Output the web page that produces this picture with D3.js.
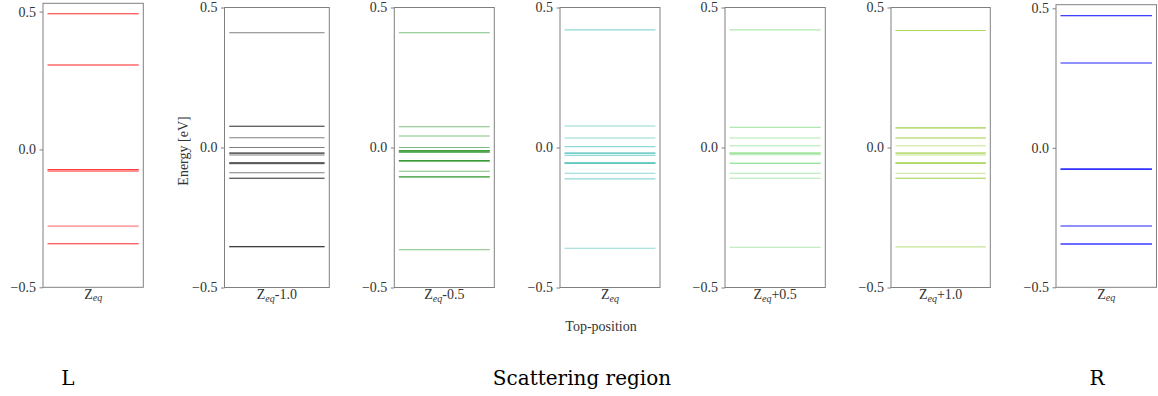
<!DOCTYPE html>
<html><head><meta charset="utf-8">
<script src="https://cdn.jsdelivr.net/npm/d3@7"></script>
<style>body{margin:0;background:#fff} svg{display:block} .tf{font-family:"Liberation Serif","DejaVu Serif",serif;}</style>
</head><body><svg id="c" width="1158" height="396"></svg>
<script>
// ---- data (energies in eV; degenerate levels listed once per state) ----
const panelNames = ["L", "Zeq-1.0", "Zeq-0.5", "Zeq", "Zeq+0.5", "Zeq+1.0", "R"];
const tickSuffix = ["", "-1.0", "-0.5", "", "+0.5", "+1.0", ""];
const levelsL = [0.492, 0.492, 0.306, 0.306, -0.073, -0.073, -0.078, -0.078, -0.278, -0.342, -0.342];
const levelsM10 = [0.410, 0.076, 0.076, 0.035, 0.0, -0.020, -0.020, -0.027, -0.055, -0.055, -0.058, -0.090, -0.110, -0.110, -0.354, -0.354];
const levelsM05 = [0.410, 0.074, 0.041, 0.0, -0.011, -0.011, -0.016, -0.016, -0.016, -0.047, -0.047, -0.049, -0.085, -0.105, -0.105, -0.365];
const levelsZ = [0.420, 0.077, 0.034, 0.003, -0.020, -0.020, -0.028, -0.055, -0.055, -0.057, -0.092, -0.112, -0.360];
const levelsP05 = [0.420, 0.072, 0.034, 0.006, -0.020, -0.020, -0.026, -0.056, -0.056, -0.092, -0.110, -0.356];
const levelsP10 = [0.418, 0.418, 0.070, 0.070, 0.034, 0.034, 0.006, -0.020, -0.020, -0.027, -0.055, -0.055, -0.057, -0.092, -0.110, -0.110, -0.355];
const levelsR = [0.474, 0.474, 0.304, 0.304, -0.075, -0.075, -0.078, -0.078, -0.280, -0.280, -0.345, -0.345, -0.345];
const panelColors = ["#ff0000", "#000000", "#008000", "#20b2aa", "#5fd35f", "#8fc92a", "#0000ff"];
const yTicks = [-0.5, 0.0, 0.5];
const yMax = [0.53, 0.5, 0.5, 0.5, 0.5, 0.5, 0.513];
const regionLabels = ["L", "Scattering region", "R"];
const xAxisTitle = "Top-position";
const yAxisTitle = "Energy [eV]";
const allLevels = [levelsL, levelsM10, levelsM05, levelsZ, levelsP05, levelsP10, levelsR];

// ---- layout ----
const boxes = [
  {x0: 43, x1: 143.3, top: 3.3, bottom: 287.3},
  {x0: 224.5, x1: 329.3, top: 7.5, bottom: 287.5},
  {x0: 394.3, x1: 494.3, top: 7.5, bottom: 287.5},
  {x0: 560, x1: 660, top: 7.5, bottom: 287.5},
  {x0: 725, x1: 825.3, top: 7.5, bottom: 287.5},
  {x0: 891, x1: 990.3, top: 7.5, bottom: 287.5},
  {x0: 1056, x1: 1156.5, top: 4.7, bottom: 287.3}
];
const frameColor = "#808080";
const textColor = "#333";
const svg = d3.select("#c");

boxes.forEach((b, i) => {
  const g = svg.append("g").attr("transform", `translate(${b.x0},0)`);
  const w = b.x1 - b.x0;
  const x = d3.scaleLinear().domain([-0.05, 1.05]).range([0, w]);
  const y = d3.scaleLinear().domain([-0.5, yMax[i]]).range([b.bottom, b.top]);

  // levels
  g.append("g").selectAll("line").data(allLevels[i]).join("line")
    .attr("x1", x(0)).attr("x2", x(1))
    .attr("y1", d => y(d)).attr("y2", d => y(d))
    .attr("stroke", panelColors[i]).attr("stroke-opacity", 0.5)
    .attr("stroke-width", 1.1);

  // y axis
  const ya = g.append("g").call(d3.axisLeft(y).tickValues(yTicks)
      .tickFormat(d => d3.format(".1f")(d).replace("-", "\u2212")).tickSize(3.5).tickPadding(3.5));
  ya.attr("font-family", null).attr("font-size", null);
  ya.select(".domain").remove();
  ya.selectAll("line").attr("stroke", frameColor);
  ya.selectAll("text").attr("class", "tf").style("font-size", "14px").attr("fill", textColor);

  // x tick label (no tick mark)
  const xb = d3.scaleBand().domain([panelNames[i]]).range([0, w]);
  const xa = g.append("g").attr("transform", `translate(0,${b.bottom})`)
    .call(d3.axisBottom(xb).tickSize(0).tickPadding(0).tickFormat(() => ""));
  xa.attr("font-family", null).attr("font-size", null);
  xa.select(".domain").remove();
  xa.selectAll("line").remove();
  const t = xa.select(".tick text").attr("class", "tf").style("font-size", "14px")
    .attr("fill", textColor).attr("y", 11.2).attr("dy", null);
  t.append("tspan").text("Z");
  t.append("tspan").text("eq").style("font-style", "italic").style("font-size", "10px").attr("dy", 3);
  if (tickSuffix[i]) t.append("tspan").text(tickSuffix[i]).attr("dy", -3);

  // frame
  g.append("rect").attr("x", 0).attr("y", b.top).attr("width", w).attr("height", b.bottom - b.top)
    .attr("fill", "none").attr("stroke", frameColor).attr("stroke-width", 1);

  if (i === 1) {
    g.append("text").attr("class", "tf").attr("transform", `translate(-37,${y(0) + 3.5}) rotate(-90)`)
      .attr("text-anchor", "middle").style("font-size", "14px")
      .attr("fill", textColor).text(yAxisTitle);
  }
});

svg.append("text").attr("class", "tf").attr("x", 601).attr("y", 331).attr("text-anchor", "middle")
  .style("font-size", "14px").attr("fill", textColor).text(xAxisTitle);

const regX = [68, 582, 1097];
svg.selectAll(".reg").data(regionLabels).join("text").attr("class", "reg")
  .attr("x", (d, i) => regX[i]).attr("y", 385).attr("text-anchor", "middle")
  .style("font-family", "'DejaVu Serif', serif").style("font-size", "20px").attr("fill", "#000")
  .text(d => d);
</script></body></html>
